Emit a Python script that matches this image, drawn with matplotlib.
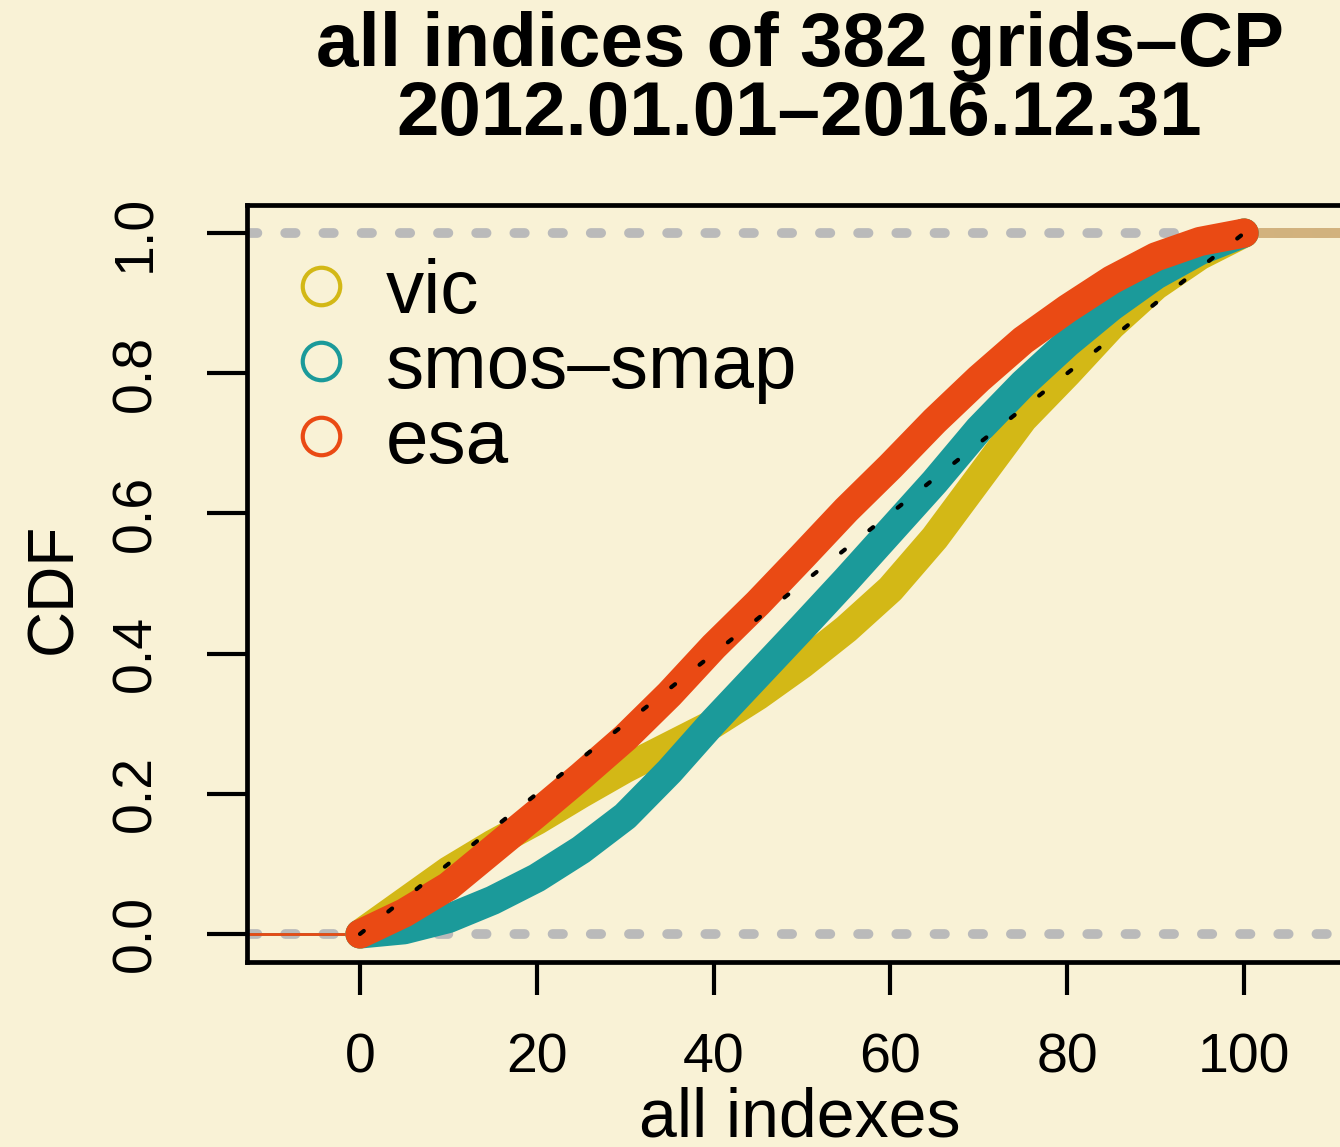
import matplotlib
matplotlib.use("Agg")
import matplotlib.pyplot as plt
from matplotlib.lines import Line2D

plt.rcParams['font.family'] = ['Liberation Sans', 'DejaVu Sans']
plt.rcParams['lines.scale_dashes'] = False

# ---- data ----
x_vals = [0, 5, 10, 15, 20, 25, 30, 35, 40, 45, 50, 55, 60, 65, 70, 75, 80, 85, 90, 95, 100]
vic = [0.0, 0.045, 0.09, 0.128, 0.162, 0.2, 0.236, 0.268, 0.30, 0.34, 0.385, 0.435,
       0.492, 0.565, 0.65, 0.735, 0.80, 0.868, 0.925, 0.968, 1.0]
smos_smap = [0.0, 0.006, 0.022, 0.048, 0.08, 0.12, 0.168, 0.232, 0.303, 0.37, 0.437,
             0.505, 0.575, 0.645, 0.72, 0.785, 0.843, 0.895, 0.94, 0.975, 1.0]
esa = [0.0, 0.03, 0.068, 0.12, 0.172, 0.225, 0.28, 0.342, 0.41, 0.472, 0.538, 0.605,
       0.667, 0.732, 0.792, 0.847, 0.892, 0.933, 0.966, 0.988, 1.0]
ref_x = [0, 100]
ref_y = [0, 1]
series_names = ['vic', 'smos\u2013smap', 'esa']
series_colors = ['#d3b816', '#1b9a9a', '#ea4a14']
x_ticks = [0, 20, 40, 60, 80, 100]
y_ticks = [0.0, 0.2, 0.4, 0.6, 0.8, 1.0]
y_ticklabels = ['0.0', '0.2', '0.4', '0.6', '0.8', '1.0']
title_line1 = 'all indices of 382 grids\u2013CP'
title_line2 = '2012.01.01\u20132016.12.31'

BG = '#f9f2d6'
W, H = 1340, 1147
fig = plt.figure(figsize=(W / 100, H / 100), dpi=100, facecolor=BG)

left, right, bottom, top = 247, 1352, 962, 205
ax = fig.add_axes([left / W, (H - bottom) / H, (right - left) / W, (bottom - top) / H])
ax.set_facecolor(BG)
xmin, xmax = -12.78, 112.2
ax.set_xlim(xmin, xmax)
ax.set_ylim(-0.04, 1.04)

# gray 0/1 reference lines
for yv in (0.0, 1.0):
    ax.axhline(yv, color='#bababa', lw=7.0, dashes=(7.5, 20.0),
               dash_capstyle='round', zorder=1)

all_series = [vic, smos_smap, esa]
for yv_list, col in zip(all_series, series_colors):
    # horizontal extensions of the ecdf
    ax.plot([xmin, x_vals[0]], [yv_list[0], yv_list[0]], color=col, lw=2.0, zorder=2)
for yv_list, col in zip(all_series, series_colors):
    ax.plot([x_vals[-1], xmax], [yv_list[-1], yv_list[-1]], color='#d2b27e',
            lw=7.0, alpha=0.8, zorder=2, solid_capstyle='butt')

for yv_list, col in zip(all_series, series_colors):
    ax.plot(x_vals, yv_list, color=col, lw=21, solid_capstyle='round',
            solid_joinstyle='round', zorder=3)

ax.plot(ref_x, ref_y, color='black', lw=3.0, dashes=(3.5, 22.5),
        dash_capstyle='round', zorder=5)

# spines / ticks
for s in ['left', 'bottom', 'top']:
    ax.spines[s].set_linewidth(3.4)
ax.spines['right'].set_visible(False)
ax.set_xticks(x_ticks)
ax.set_xticklabels([str(t) for t in x_ticks])
ax.set_yticks(y_ticks)
ax.set_yticklabels(y_ticklabels, rotation=90, va='center')
ax.tick_params(axis='x', length=24, width=3.0, pad=27, labelsize=40)
ax.tick_params(axis='y', length=29, width=3.0, pad=32, labelsize=40)

ax.set_xlabel('all indexes', fontsize=49)
ax.xaxis.set_label_coords(0.5, -0.164)
ax.set_ylabel('CDF', fontsize=46)
ax.yaxis.label.set_va('center')
ax.yaxis.set_label_coords(-0.174, 0.494)

# titles
cx = ((left + right) / 2) / W
fig.text(cx, 1 - 46 / H, title_line1, ha='center', va='center',
         fontsize=55, fontweight='bold')
fig.text(cx, 1 - 116 / H, title_line2, ha='center', va='center',
         fontsize=55, fontweight='bold')

# legend
handles = [Line2D([], [], linestyle='none', marker='o', markersize=27,
                  markerfacecolor='none', markeredgecolor=c, markeredgewidth=3.0)
           for c in series_colors]
ax.legend(handles, series_names, loc='upper left', bbox_to_anchor=(0.032, 0.93),
          frameon=False, fontsize=55, handlelength=1.0, handletextpad=0.35,
          labelspacing=0.05, borderpad=0.0, borderaxespad=0.0)

fig.savefig('out.png', dpi=100, facecolor=BG)
